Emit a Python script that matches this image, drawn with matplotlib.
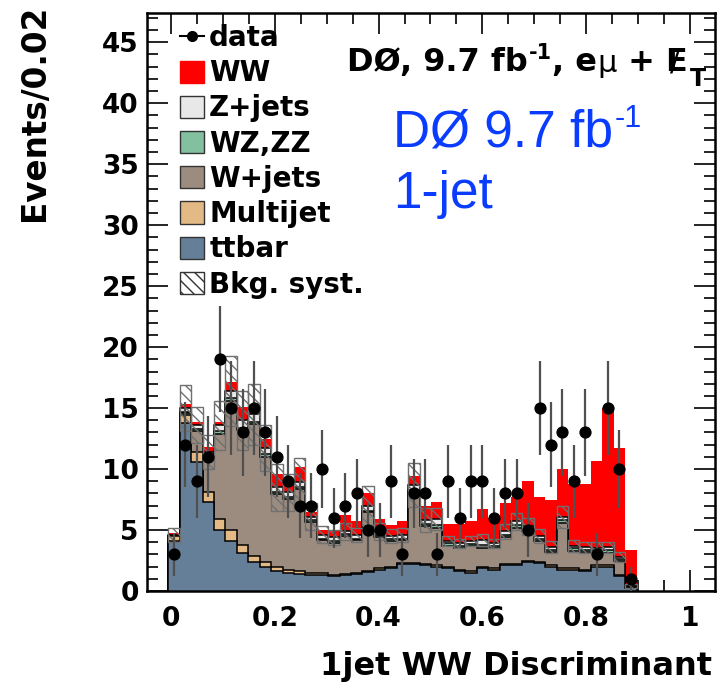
import matplotlib
matplotlib.use("Agg")
import matplotlib.pyplot as plt
import numpy as np
from matplotlib.lines import Line2D
from matplotlib.patches import Patch
from matplotlib.ticker import MultipleLocator

plt.rcParams['font.family'] = ['DejaVu Sans']
plt.rcParams['font.weight'] = 'bold'
plt.rcParams['hatch.linewidth'] = 1.0

# binning of the discriminant histogram
bin_lo = -0.005
bin_width = 0.022

data = [3, 12, 9, 11, 19, 15, 13, 15, 13, 11,
        9, 7, 7, 10, 6, 7, 8, 5, 5, 9,
        3, 8, 8, 3, 9, 6, 9, 9, 6, 8,
        8, 5, 15, 12, 13, 9, 13, 3, 15, 10, 1]
ttbar = [4.1, 13.8, 10.6, 7.3, 5.0, 4.1, 3.1, 2.4, 2.0, 1.65,
         1.45, 1.4, 1.3, 1.35, 1.2, 1.3, 1.4, 1.55, 1.75, 1.9,
         2.2, 2.2, 2.1, 2.0, 1.9, 1.6, 1.5, 1.9, 1.75, 2.1,
         2.1, 2.4, 2.3, 2.0, 1.75, 1.75, 1.6, 2.0, 2.0, 1.2, 0.25]
multijet = [0.4, 0.6, 0.8, 0.8, 0.9, 0.9, 0.65, 0.5, 0.4, 0.3,
            0.3, 0.25, 0.2, 0.15, 0.1, 0.1, 0.1, 0.1, 0.1, 0.1,
            0.1, 0.1, 0.1, 0.1, 0.1, 0.1, 0.1, 0.1, 0.1, 0.1,
            0.1, 0.1, 0.1, 0.1, 0.1, 0.1, 0.1, 0.1, 0.1, 0.1, 0.0]
wjets = [0.03, 0.2, 1.75, 2.8, 7.0, 10.6, 9.45, 10.8, 8.6, 6.0,
         5.8, 6.7, 4.15, 2.65, 2.65, 3.1, 2.65, 4.8, 2.6, 2.1,
         1.85, 5.8, 3.1, 3.1, 1.7, 1.8, 2.05, 1.55, 1.65, 2.2,
         3.0, 2.4, 1.7, 1.1, 3.75, 1.45, 1.5, 1.05, 1.05, 1.15, 0.1]
wzzz = [0.02, 0.05, 0.1, 0.1, 0.2, 0.2, 0.2, 0.2, 0.2, 0.15,
        0.15, 0.15, 0.15, 0.15, 0.15, 0.15, 0.15, 0.15, 0.15, 0.15,
        0.15, 0.2, 0.2, 0.2, 0.2, 0.2, 0.2, 0.2, 0.2, 0.2,
        0.2, 0.2, 0.2, 0.2, 0.2, 0.2, 0.2, 0.2, 0.2, 0.15, 0.03]
zjets = [0.05, 0.35, 0.35, 0.4, 0.5, 0.6, 0.6, 0.6, 0.5, 0.4,
         0.4, 0.4, 0.3, 0.3, 0.3, 0.25, 0.3, 0.4, 0.3, 0.25,
         0.3, 0.4, 0.3, 0.5, 0.2, 0.2, 0.25, 0.45, 0.2, 0.3,
         0.3, 0.2, 0.2, 0.2, 0.3, 0.2, 0.2, 0.2, 0.25, 0.2, 0.02]
ww = [0.15, 0.3, 0.3, 0.4, 0.3, 0.7, 1.05, 0.5, 0.8, 1.1,
      0.9, 1.3, 0.4, 0.4, 0.5, 1.3, 1.1, 1.0, 1.0, 0.9,
      1.1, 0.7, 1.2, 1.4, 1.4, 1.6, 1.6, 2.5, 2.1, 2.3,
      2.0, 3.7, 3.2, 3.9, 3.9, 5.1, 5.2, 7.15, 11.4, 8.9, 3.0]
bkg_syst = [0.6, 1.9, 1.5, 1.4, 2.0, 2.9, 2.4, 2.5, 1.9, 1.9,
            1.5, 2.0, 1.1, 0.7, 0.6, 0.7, 0.6, 1.6, 0.7, 0.6,
            0.6, 1.8, 1.0, 0.9, 0.4, 0.4, 0.4, 0.5, 0.4, 0.6,
            0.7, 0.7, 0.55, 0.5, 0.9, 0.5, 0.45, 0.45, 0.45, 0.4, 0.15]

labels = ['ttbar', 'Multijet', 'W+jets', 'WZ,ZZ', 'Z+jets', 'WW']
colors = ['#667f99', '#e3ba85', '#9c8c80', '#82c0a0', '#e8e8e8', '#ff0000']
samples = [ttbar, multijet, wjets, wzzz, zjets, ww]

n = len(data)
edges = bin_lo + bin_width * np.arange(n + 1)
centers = 0.5 * (edges[:-1] + edges[1:])
cum = np.cumsum(np.array(samples), axis=0)
bkg = cum[4]
syst = np.array(bkg_syst)

fig = plt.figure(figsize=(7.22, 6.83), dpi=100)
ax = fig.add_axes([147 / 722, 92 / 683, 568 / 722, 578 / 683])

# stacked histograms, drawn from the top layer down
for i in range(len(samples) - 1, -1, -1):
    ax.stairs(cum[i], edges, baseline=0, fill=True, color=colors[i], zorder=2)
    if labels[i] != 'WW':
        ax.stairs(cum[i], edges, baseline=0, color='black', lw=1.1, zorder=2)

ax.bar(centers, 2 * syst, bottom=bkg - syst, width=bin_width, fill=False,
       hatch='\\\\\\', edgecolor='#707070', linewidth=1.0, zorder=3)

ax.errorbar(centers, data, yerr=np.sqrt(data), fmt='o', color='black',
            ecolor='#505050', elinewidth=1.6, ms=7.8, capsize=0, zorder=4)

ax.set_xlim(-0.046, 1.048)
ax.set_ylim(0, 47.4)
ax.xaxis.set_minor_locator(MultipleLocator(0.05))
ax.yaxis.set_major_locator(MultipleLocator(5))
ax.yaxis.set_minor_locator(MultipleLocator(1))
ax.set_xticks([0, 0.2, 0.4, 0.6, 0.8, 1.0], ['0', '0.2', '0.4', '0.6', '0.8', '1'])
ax.tick_params(which='both', direction='in', top=True, right=True, width=1.2,
               labelsize=19)
ax.tick_params(which='major', length=15)
ax.tick_params(which='minor', length=8)
ax.tick_params(axis='x', pad=11)
ax.tick_params(axis='y', pad=6)
for sp in ax.spines.values():
    sp.set_linewidth(1.8)

fig.text(35 / 722, 1 - 5 / 683, 'Events/0.02', rotation=90, ha='center', va='top',
         fontsize=23.5)
fig.text(712 / 722, 1 - 675 / 683, '1jet WW Discriminant', ha='right', va='baseline',
         fontsize=23)

handles = [Line2D([], [], color='black', marker='o', ms=7, lw=1.5)]
for i in range(len(samples) - 1, -1, -1):
    ec = colors[i] if labels[i] == 'WW' else '#333333'
    handles.append(Patch(facecolor=colors[i], edgecolor=ec, linewidth=1))
handles.append(Patch(facecolor='white', edgecolor='#333333', hatch='\\\\\\', linewidth=1))
leg_labels = ['data'] + labels[::-1] + ['Bkg. syst.']
ax.legend(handles, leg_labels, loc='upper left', bbox_to_anchor=(180 / 722, 1 - 24 / 683),
          bbox_transform=fig.transFigure, frameon=False, borderaxespad=0, borderpad=0,
          handlelength=0.85, handleheight=0.85, handletextpad=0.2, labelspacing=0.26,
          prop={'weight': 'bold', 'size': 20})

# header: DØ, 9.7 fb-1, eμ + missing E_T
h1 = fig.text(347 / 722, 1 - 71 / 683, 'DØ, 9.7 fb', fontsize=23, va='baseline')
h2 = ax.annotate('-1', xy=(1, 1), xycoords=h1, xytext=(1, 3), textcoords='offset points',
                 ha='left', va='top', fontsize=15)
h3 = ax.annotate(', e', xy=(1, 0), xycoords=(h2, h1), ha='left', va='bottom', fontsize=23)
h4 = ax.annotate('μ', xy=(1, 0), xycoords=(h3, h1), ha='left', va='bottom', fontsize=22,
                 fontweight='normal')
h5 = ax.annotate(' + E', xy=(1, 0), xycoords=(h4, h1), ha='left', va='bottom', fontsize=23)
ax.annotate('/', xy=(1, 0.5), xycoords=h5, xytext=(-9, 0), textcoords='offset points',
            ha='center', va='center', fontsize=21, fontweight='normal')
ax.annotate('T', xy=(1, 0), xycoords=h5, xytext=(2, -9), textcoords='offset points',
            ha='left', va='bottom', fontsize=17)

b1 = fig.text(393 / 722, 1 - 146 / 683, 'DØ 9.7 fb', color='#0a3cff',
              fontsize=37, fontweight='normal', family='Liberation Sans', va='baseline')
ax.annotate('-1', xy=(1, 1), xycoords=b1, xytext=(1, 3), textcoords='offset points',
            ha='left', va='top', color='#0a3cff', fontsize=22, fontweight='normal',
            family='Liberation Sans')
fig.text(393 / 722, 1 - 208 / 683, '1-jet', color='#0a3cff', fontsize=37,
         fontweight='normal', family='Liberation Sans', va='baseline')

fig.savefig('out.png', dpi=100)
